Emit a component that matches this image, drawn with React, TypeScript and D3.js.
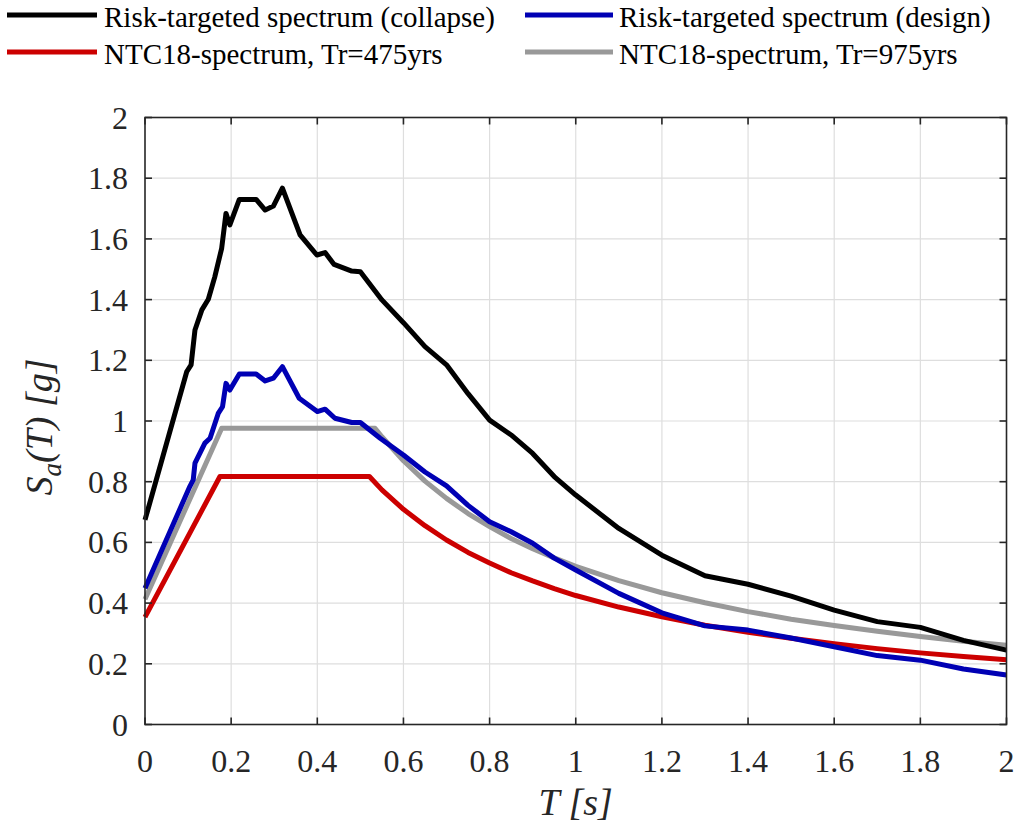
import React from "react";
import * as d3 from "d3";

const collapseT = [0, 0.097, 0.107, 0.116, 0.132, 0.147, 0.162, 0.178, 0.188, 0.197, 0.219, 0.258, 0.279, 0.298, 0.319, 0.36, 0.399, 0.418, 0.439, 0.48, 0.5, 0.55, 0.6, 0.65, 0.7, 0.75, 0.8, 0.85, 0.9, 0.95, 1.0, 1.1, 1.2, 1.3, 1.4, 1.5, 1.6, 1.7, 1.8, 1.9, 2.0];
const collapseSa = [0.674, 1.163, 1.185, 1.3, 1.366, 1.401, 1.475, 1.569, 1.684, 1.646, 1.73, 1.73, 1.695, 1.708, 1.767, 1.613, 1.547, 1.555, 1.516, 1.494, 1.492, 1.399, 1.324, 1.245, 1.185, 1.09, 1.003, 0.954, 0.893, 0.817, 0.756, 0.646, 0.558, 0.49, 0.462, 0.423, 0.377, 0.339, 0.32, 0.277, 0.245];

const designT = [0, 0.104, 0.112, 0.116, 0.139, 0.151, 0.17, 0.18, 0.188, 0.197, 0.219, 0.258, 0.279, 0.298, 0.319, 0.358, 0.4, 0.418, 0.441, 0.48, 0.5, 0.546, 0.6, 0.65, 0.7, 0.75, 0.8, 0.85, 0.9, 0.95, 1.0, 1.1, 1.2, 1.3, 1.4, 1.5, 1.6, 1.7, 1.8, 1.9, 2.0];
const designSa = [0.449, 0.784, 0.806, 0.861, 0.927, 0.943, 1.025, 1.047, 1.124, 1.102, 1.155, 1.155, 1.132, 1.141, 1.179, 1.075, 1.031, 1.039, 1.009, 0.995, 0.995, 0.943, 0.888, 0.832, 0.786, 0.722, 0.668, 0.635, 0.597, 0.548, 0.509, 0.432, 0.368, 0.325, 0.311, 0.285, 0.256, 0.227, 0.212, 0.183, 0.163];

const ntc475T = [0, 0.174, 0.521, 0.55, 0.6, 0.65, 0.7, 0.75, 0.8, 0.85, 0.9, 0.95, 1.0, 1.1, 1.2, 1.3, 1.4, 1.5, 1.6, 1.7, 1.8, 1.9, 2.0];
const ntc475Sa = [0.354, 0.817, 0.817, 0.773, 0.709, 0.655, 0.608, 0.567, 0.532, 0.5, 0.473, 0.448, 0.425, 0.387, 0.355, 0.327, 0.304, 0.284, 0.266, 0.25, 0.236, 0.224, 0.213];

const ntc975T = [0, 0.178, 0.534, 0.55, 0.6, 0.65, 0.7, 0.75, 0.8, 0.85, 0.9, 0.95, 1.0, 1.1, 1.2, 1.3, 1.4, 1.5, 1.6, 1.7, 1.8, 1.9, 2.0];
const ntc975Sa = [0.413, 0.976, 0.976, 0.948, 0.869, 0.802, 0.745, 0.695, 0.652, 0.613, 0.579, 0.549, 0.521, 0.474, 0.434, 0.401, 0.372, 0.347, 0.326, 0.307, 0.29, 0.274, 0.261];

const xTicks = [0, 0.2, 0.4, 0.6, 0.8, 1, 1.2, 1.4, 1.6, 1.8, 2];
const yTicks = [0, 0.2, 0.4, 0.6, 0.8, 1, 1.2, 1.4, 1.6, 1.8, 2];

const seriesNames = [
  "Risk-targeted spectrum (collapse)",
  "Risk-targeted spectrum (design)",
  "NTC18-spectrum, Tr=475yrs",
  "NTC18-spectrum, Tr=975yrs",
];
const seriesColors = ["#000000", "#0000b4", "#cc0000", "#999999"];

const FONT = "Liberation Serif, Times New Roman, FreeSerif, serif";

export default function App() {
  const W = 1017, H = 826;
  const left = 145, right = 1006.5, top = 117.5, bottom = 724.5;
  const x = d3.scaleLinear().domain([0, 2]).range([left, right]);
  const y = d3.scaleLinear().domain([0, 2]).range([bottom, top]);
  const line = d3.line<[number, number]>().x((d) => x(d[0])).y((d) => y(d[1]));
  const zip = (a: number[], b: number[]) => a.map((t, i) => [t, b[i]] as [number, number]);
  const series = [
    zip(collapseT, collapseSa),
    zip(designT, designSa),
    zip(ntc475T, ntc475Sa),
    zip(ntc975T, ntc975Sa),
  ];
  const drawOrder = [3, 2, 1, 0];
  const axisColor = "#262626";
  const tickLen = 7;
  const fmt = d3.format("~g");

  const legendPos = [
    { lx: 7, tx: 104, y: 15 },
    { lx: 525, tx: 619, y: 15 },
    { lx: 7, tx: 104, y: 52 },
    { lx: 525, tx: 619, y: 52 },
  ];
  const legendLineLen = [90, 88, 90, 88];

  return (
    <svg width={W} height={H} style={{ position: "absolute", left: 0, top: 0, background: "#fff" }}>
      <rect x={0} y={0} width={W} height={H} fill="#fff" />
      <g stroke="#dedede" strokeWidth={1.2}>
        {xTicks.slice(1, -1).map((t) => (
          <line key={"gx" + t} x1={x(t)} x2={x(t)} y1={top} y2={bottom} />
        ))}
        {yTicks.slice(1, -1).map((t) => (
          <line key={"gy" + t} x1={left} x2={right} y1={y(t)} y2={y(t)} />
        ))}
      </g>
      <g fill="none" strokeWidth={5} strokeLinejoin="round">
        {drawOrder.map((i) => (
          <path key={"s" + i} d={line(series[i]) || ""} stroke={seriesColors[i]} />
        ))}
      </g>
      <rect x={left} y={top} width={right - left} height={bottom - top} fill="none" stroke={axisColor} strokeWidth={1.6} />
      <g stroke={axisColor} strokeWidth={1.6}>
        {xTicks.map((t) => (
          <g key={"tx" + t}>
            <line x1={x(t)} x2={x(t)} y1={bottom} y2={bottom - tickLen} />
            <line x1={x(t)} x2={x(t)} y1={top} y2={top + tickLen} />
          </g>
        ))}
        {yTicks.map((t) => (
          <g key={"ty" + t}>
            <line x1={left} x2={left + tickLen} y1={y(t)} y2={y(t)} />
            <line x1={right} x2={right - tickLen} y1={y(t)} y2={y(t)} />
          </g>
        ))}
      </g>
      {xTicks.map((t) => (
        <text key={"lx" + t} x={x(t)} y={772} textAnchor="middle" fontSize={32} fill="#262626" fontFamily={FONT}>
          {fmt(t)}
        </text>
      ))}
      {yTicks.map((t) => (
        <text key={"ly" + t} x={128} y={y(t) + 11} textAnchor="end" fontSize={32} fill="#262626" fontFamily={FONT}>
          {fmt(t)}
        </text>
      ))}
      <text x={(left + right) / 2} y={815} textAnchor="middle" fontSize={38} fill="#262626" fontFamily={FONT} fontStyle="italic">
        T [s]
      </text>
      <text transform="translate(52, 427) rotate(-90)" textAnchor="middle" fontSize={38} fill="#262626" fontFamily={FONT} fontStyle="italic">
        S<tspan fontSize={27} dy={9}>a</tspan>
        <tspan dy={-9}>(T) [g]</tspan>
      </text>
      {seriesNames.map((name, i) => (
        <g key={"lg" + i}>
          <line x1={legendPos[i].lx} x2={legendPos[i].lx + legendLineLen[i]} y1={legendPos[i].y} y2={legendPos[i].y} stroke={seriesColors[i]} strokeWidth={5} />
          <text x={legendPos[i].tx} y={legendPos[i].y + 12} fontSize={29} fill="#000" fontFamily={FONT}>
            {name}
          </text>
        </g>
      ))}
    </svg>
  );
}
